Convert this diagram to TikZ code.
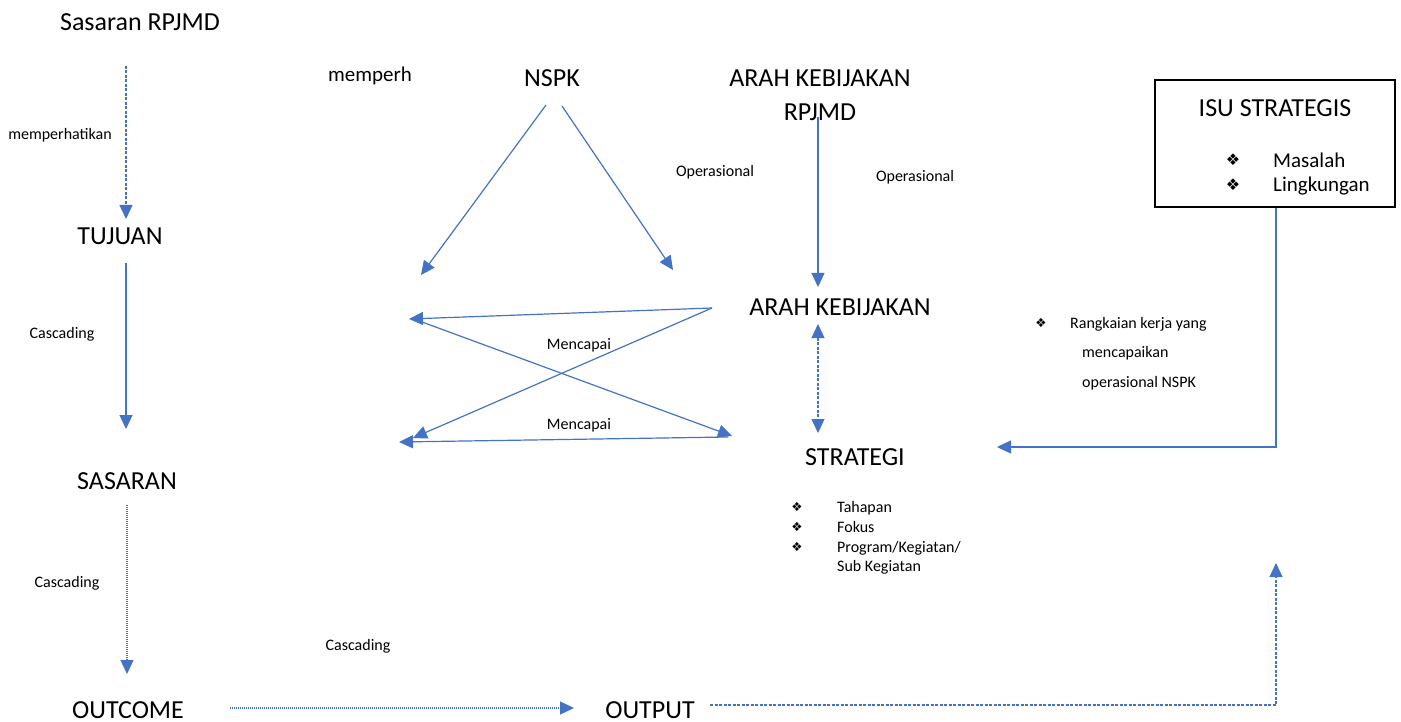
\documentclass[tikz,border=0pt]{standalone}
\usepackage{fontspec}
\setmainfont{Carlito}
\newfontfamily\dejavu{DejaVu Sans}
\usetikzlibrary{arrows.meta}
\definecolor{arrblue}{HTML}{4472C4}
\tikzset{
  big/.style={font=\fontsize{26}{30}\selectfont, inner sep=0pt, anchor=base},
  mid/.style={font=\fontsize{21}{25}\selectfont, inner sep=0pt, anchor=base},
  small/.style={font=\fontsize{16}{18}\selectfont, inner sep=0pt, anchor=base},
  bulsmall/.style={font=\dejavu\fontsize{12.5}{14}\selectfont, inner sep=0pt, anchor=base},
  bulbig/.style={font=\dejavu\fontsize{16}{18}\selectfont, inner sep=0pt, anchor=base},
  conn/.style={draw=arrblue, line width=1.2pt, -{Triangle[length=14pt,width=13pt]}},
  dashedconn/.style={conn, dash pattern=on 3pt off 1.5pt},
  dottedconn/.style={conn, dash pattern=on 1pt off 1pt},
}
\begin{document}
\begin{tikzpicture}[x=1pt,y=-1pt]
\useasboundingbox (0,0) rectangle (1401,722);

% left column
\node[big] (sasrpjmd) at (140,31) {Sasaran RPJMD};
\node[small] (lbl1) at (60,140) {memperhatikan};
\node[big] (tujuan) at (120,245) {TUJUAN};
\node[small] (lbl2) at (62,338) {Cascading};
\node[big] (sasaran) at (127,489) {SASARAN};
\node[small] (lbl3) at (67,587) {Cascading};
\node[big] (outcome) at (128,718) {OUTCOME};
\node[small] (lbl4) at (358,650) {Cascading};
\node[big] (output) at (650,718) {OUTPUT};

\coordinate (a1s) at (126,66);  \coordinate (a1e) at (126,219);
\coordinate (a2s) at (126,263); \coordinate (a2e) at (126,429);
\coordinate (a3s) at (127,505); \coordinate (a3e) at (127,674);
\coordinate (a4s) at (230,708); \coordinate (a4e) at (574,708);
\draw[dashedconn] (a1s) -- (a1e);
\draw[conn] (a2s) -- (a2e);
\draw[dottedconn] (a3s) -- (a3e);
\draw[dottedconn] (a4s) -- (a4e);

% output to right
\coordinate (o1) at (710,705);
\coordinate (o2) at (1276,705);
\coordinate (o3) at (1276,563);
\draw[dashedconn] (o1) -- (o2) -- (o3);

% NSPK
\node[mid] (memperh) at (370,82) {memperh};
\node[big] (nspk) at (552,87) {NSPK};
\coordinate (n1s) at (546,105); \coordinate (n1e) at (421,275);
\coordinate (n2s) at (562,106); \coordinate (n2e) at (673,270);
\draw[conn] (n1s) -- (n1e);
\draw[conn] (n2s) -- (n2e);

% Arah kebijakan RPJMD
\node[big] (akr1) at (820,87) {ARAH KEBIJAKAN};
\node[big] (akr2) at (820,121) {RPJMD};
\node[small] (op1) at (715,177) {Operasional};
\node[small] (op2) at (915,182) {Operasional};
\coordinate (r1s) at (818,117); \coordinate (r1e) at (818,287);
\draw[conn] (r1s) -- (r1e);

\node[big] (ak) at (840,316) {ARAH KEBIJAKAN};
\coordinate (d1s) at (818,324); \coordinate (d1e) at (818,433);
\draw[dashedconn, {Triangle[length=14pt,width=13pt]}-{Triangle[length=14pt,width=13pt]}] (d1s) -- (d1e);

% cross
\coordinate (c0) at (712,308);
\coordinate (c1) at (409,319);
\coordinate (c2) at (413,438);
\coordinate (c3s) at (422,322);
\coordinate (c3e) at (732,436);
\coordinate (c4s) at (728,437);
\coordinate (c4e) at (399,442);
\draw[conn] (c0) -- (c1);
\draw[conn] (c0) -- (c2);
\draw[conn] (c3s) -- (c3e);
\draw[conn] (c4s) -- (c4e);
\node[small] (mc1) at (579,349) {Mencapai};
\node[small] (mc2) at (579,429) {Mencapai};

% strategi
\node[big] (strategi) at (855,465) {STRATEGI};
\node[bulsmall] (b1) at (797,511) {❖};
\node[bulsmall] (b2) at (797,531) {❖};
\node[bulsmall] (b3) at (797,551) {❖};
\node[small, anchor=base west] (t1) at (837,512) {Tahapan};
\node[small, anchor=base west] (t2) at (837,532) {Fokus};
\node[small, anchor=base west] (t3) at (837,552) {Program/Kegiatan/};
\node[small, anchor=base west] (t4) at (837,571) {Sub Kegiatan};

% rangkaian
\node[bulsmall] (b4) at (1041,327) {❖};
\node[small, anchor=base west] (rk1) at (1070,328) {Rangkaian kerja yang};
\node[small, anchor=base west] (rk2) at (1082,357) {mencapaikan};
\node[small, anchor=base west] (rk3) at (1082,387) {operasional NSPK};

% ISU box
\draw[black, line width=2.4pt] (1155,80) rectangle (1395,207);
\coordinate (boxb) at (1276,208);
\node[big] (isu) at (1275,117) {ISU STRATEGIS};
\node[bulbig] (b5) at (1233,166) {❖};
\node[bulbig] (b6) at (1233,191) {❖};
\node[mid, anchor=base west] (m1) at (1273,168) {Masalah};
\node[mid, anchor=base west] (m2) at (1273,192) {Lingkungan};
\coordinate (i2) at (1276,447);
\coordinate (i3) at (997,447);
\draw[conn] (boxb) -- (i2) -- (i3);
\end{tikzpicture}
\end{document}
